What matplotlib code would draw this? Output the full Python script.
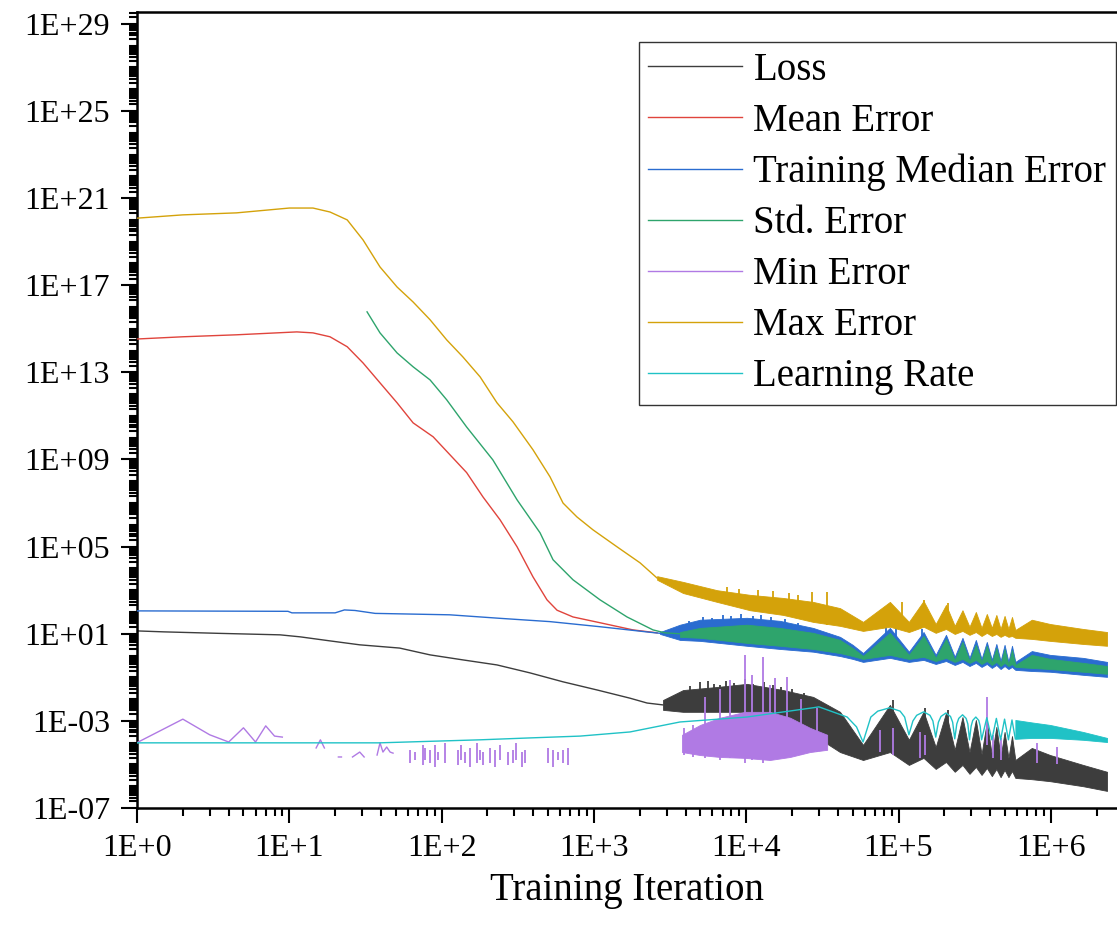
import numpy as np
import matplotlib
matplotlib.use("Agg")
import matplotlib.pyplot as plt
from matplotlib.ticker import FixedLocator, FuncFormatter, NullFormatter

# ------------------------------------------------------------------ data
# Loss (smooth part, then noisy band)
loss_x = [1, 1.5, 3.5, 8.7, 11.8, 18.5, 29, 53, 84, 138, 231, 380, 627, 1054, 1726, 2233, 2843]
loss_y = [13.5, 12.2, 10.4, 8.9, 7.2, 4.7, 3.1, 2.2, 1.07, 0.63, 0.37, 0.16, 0.062, 0.026, 0.011, 6.6e-3, 5.4e-3]
loss_bx = [2843, 3850, 6430, 1.01e4, 1.75e4, 2.75e4, 4.13e4,
           5.85e4, 8.78e4, 1.17e5, 1.46e5, 1.755e5, 2.05e5, 2.34e5, 2.63e5, 2.925e5, 3.22e5,
           3.51e5, 3.8e5, 4.1e5, 4.39e5, 4.68e5, 4.97e5, 5.27e5, 5.56e5, 5.85e5,
           7.5e5, 9.9e5, 1.63e6, 2.34e6]
loss_bhi = [9.1e-3, 0.026, 0.036, 0.05, 0.026, 0.0126, 2.6e-3,
            7.9e-5, 5.4e-3, 1.35e-4, 2.6e-3, 6.3e-5, 2.3e-3, 4.7e-5, 1.5e-3, 3.7e-5, 1.1e-3,
            3.0e-5, 8.9e-4, 2.7e-5, 5.3e-4, 2.2e-5, 3.1e-4, 2.0e-5, 2.0e-4, 1.6e-5,
            5.7e-5, 2.7e-5, 9.5e-6, 4.6e-6]
loss_blo = [3.2e-3, 2.6e-3, 2.6e-3, 2.6e-3, 1.1e-3, 2.3e-4, 3.7e-5,
            1.6e-5, 3.7e-5, 9.5e-6, 2.0e-5, 6.2e-6, 1.3e-5, 4.6e-6, 9.5e-6, 3.7e-6, 7.7e-6,
            3.3e-6, 6.9e-6, 2.9e-6, 6.2e-6, 2.6e-6, 5.6e-6, 2.6e-6, 5.0e-6, 2.4e-6,
            2.1e-6, 1.7e-6, 1.0e-6, 6.1e-7]
loss_spk_x = [4300, 5000, 5600, 6100, 6730, 7400, 8300, 9800, 1.1e4, 1.3e4, 1.5e4, 1.7e4, 2.0e4,
              2.4e4, 9.2e4, 1.5e5, 2.1e5]
loss_spk_hi = [0.04, 0.06, 0.07, 0.05, 0.046, 0.065, 0.055, 0.08, 0.05, 0.06, 0.045, 0.035, 0.03,
               0.02, 9.0e-3, 4.0e-3, 3.0e-3]
loss_spk_lo = [3e-3, 3e-3, 3e-3, 3e-3, 3e-3, 3e-3, 3e-3, 3e-3, 3e-3, 3e-3, 2e-3, 1.5e-3, 1e-3,
               5e-4, 4e-5, 2e-5, 1.5e-5]

# Mean Error
mean_x = [1, 2, 4.5, 11.2, 14.3, 18.5, 24, 30.5, 39.4, 51, 65, 88, 146, 187, 242, 313, 398, 492, 573, 729, 1097, 1806, 2600]
mean_y = [3.4e14, 4.3e14, 5.3e14, 7.2e14, 6.5e14, 4.3e14, 1.5e14, 2.7e13, 3.3e12, 4.0e11, 4.8e10, 1.1e10,
          2.5e8, 1.9e7, 1.7e6, 9.8e4, 4.1e3, 360, 120, 59, 32, 15, 11]

# Training Median Error
med_x = [1, 9.8, 10.4, 20, 23, 27, 36.6, 113, 242, 515, 1097, 2336, 2716]
med_y = [112, 107, 91, 91, 124, 117, 86, 74, 51, 36, 21, 11.7, 10.5]
med_bx = [2716, 3675, 4977, 1.01e4, 1.67e4, 2.75e4, 4.13e4, 5.0e4,
          5.85e4, 8.78e4, 1.17e5, 1.46e5, 1.755e5, 2.05e5, 2.34e5, 2.63e5, 2.925e5, 3.22e5,
          3.51e5, 3.8e5, 4.1e5, 4.39e5, 4.68e5, 4.97e5, 5.27e5, 5.56e5, 5.85e5,
          7.5e5, 9.9e5, 1.63e6, 2.34e6]
med_bhi = [12, 26, 44, 54, 39, 18.5, 7.2, 3.1,
           1.3, 18.5, 1.5, 12, 1.07, 8.9, 0.87, 6.5, 0.78, 5.2,
           0.70, 4.2, 0.63, 3.4, 0.56, 3.1, 0.51, 2.8, 0.51,
           1.6, 1.07, 0.78, 0.51]
med_blo = [9.8, 5.2, 4.7, 2.8, 2.0, 1.5, 0.95, 0.70,
           0.51, 0.78, 0.51, 0.63, 0.41, 0.56, 0.37, 0.51, 0.33, 0.46,
           0.30, 0.41, 0.27, 0.37, 0.24, 0.33, 0.24, 0.30, 0.22,
           0.195, 0.18, 0.13, 0.105]
med_spk_x = [4200, 5200, 6000, 7000, 8000, 9300, 1.1e4, 1.25e4, 1.45e4, 1.8e4, 2.2e4, 8.3e4, 9.6e4, 1.42e5]
med_spk_hi = [40, 60, 55, 70, 62, 80, 66, 72, 58, 50, 30, 24, 22, 17]
med_spk_lo = [8, 8, 8, 6, 6, 6, 5, 5, 4, 4, 3, 2, 2, 2]

# Std. Error
std_x = [32.4, 39.4, 51, 65, 84, 108, 146, 217, 313, 443, 539, 729, 1097, 1650, 2444, 2930, 3675]
std_y = [6.0e15, 6.5e14, 7.8e13, 1.8e13, 4.5e12, 5.5e11, 3.1e10, 9.6e8, 1.4e7, 4.3e5, 2.5e4,
         3.0e3, 360, 59, 15, 11, 10]
std_bx = [3675, 4977, 1.01e4, 1.67e4, 2.75e4, 4.13e4, 5.0e4,
          5.85e4, 8.78e4, 1.17e5, 1.46e5, 1.755e5, 2.05e5, 2.34e5, 2.63e5, 2.925e5, 3.22e5,
          3.51e5, 3.8e5, 4.1e5, 4.39e5, 4.68e5, 4.97e5, 5.27e5, 5.56e5, 5.85e5,
          7.5e5, 9.9e5, 1.63e6, 2.34e6]
std_bhi = [12, 18.5, 26, 18.5, 11, 5.2, 2.2,
           0.95, 11, 1.07, 7.9, 0.78, 5.8, 0.63, 4.2, 0.56, 3.1,
           0.51, 2.8, 0.46, 2.2, 0.41, 2.0, 0.37, 1.8, 0.37,
           1.07, 0.70, 0.46, 0.33]
std_blo = [7.2, 6.5, 3.8, 2.8, 2.0, 1.3, 0.95,
           0.70, 1.07, 0.70, 0.87, 0.56, 0.78, 0.51, 0.70, 0.46, 0.63,
           0.41, 0.56, 0.37, 0.51, 0.33, 0.46, 0.33, 0.41, 0.30,
           0.27, 0.24, 0.18, 0.145]

# Min Error (gaps = zero values, not drawable on log axis)
min_x = [1, 2, 3, 4, 5, 6, 7, 8, 9, np.nan, 15, 16, 17, np.nan, 21, 22, np.nan,
         26, 29, 31, np.nan, 37.7, 39.4, 41.2, 43.6, 45.9, 48.0]
min_y = [1.0e-4, 1.2e-3, 2.3e-4, 1.07e-4, 4.8e-4, 1.07e-4, 5.9e-4, 2.0e-4, 1.8e-4, np.nan,
         5.7e-5, 1.35e-4, 5.7e-5, np.nan, 2.2e-5, 2.2e-5, np.nan,
         2.2e-5, 3.7e-5, 2.2e-5, np.nan, 2.7e-5, 9.8e-5, 3.7e-5, 6.3e-5, 3.7e-5, 3.3e-5]
min_spk_x = [62, 66.5, 75.7, 78, 84, 90, 95, 105, 128, 135, 142, 153, 170, 179, 188, 208, 224,
             242, 274, 295, 310, 335, 352, 503, 541, 582, 627, 675,
             3900, 4500, 5360, 6730, 7830, 9820, 1.09e4, 1.29e4, 1.43e4, 1.55e4, 1.85e4, 2.3e4, 2.9e4,
             7.6e4, 9.2e4, 1.38e5, 1.5e5, 3.81e5, 4.2e5, 4.7e5, 8.1e5, 1.1e6]
min_spk_hi = [4.7e-5, 3.7e-5, 7.9e-5, 5.7e-5, 4.7e-5, 7.9e-5, 3.7e-5, 9.8e-5, 4.7e-5, 7.9e-5, 3.7e-5,
              5.7e-5, 9.8e-5, 4.7e-5, 3.7e-5, 5.7e-5, 4.7e-5, 7.9e-5, 3.7e-5, 4.7e-5, 9.8e-5, 3.7e-5,
              4.7e-5, 5.7e-5, 4.7e-5, 3.7e-5, 4.7e-5, 5.7e-5,
              4.8e-4, 6.5e-4, 0.0126, 0.03, 0.076, 1.07, 0.13, 0.87, 0.043, 0.093, 0.1, 0.01, 3.9e-3,
              3.9e-4, 4.8e-4, 3.1e-4, 2.3e-4, 0.0126, 2.3e-4, 1.6e-4, 1.0e-4, 6.0e-5]
min_spk_lo = [1.2e-5, 1.6e-5, 9.5e-6, 1.6e-5, 1.2e-5, 7.7e-6, 1.6e-5, 1.2e-5, 9.5e-6, 1.6e-5, 1.2e-5,
              7.7e-6, 1.2e-5, 1.6e-5, 9.5e-6, 1.2e-5, 7.7e-6, 1.6e-5, 9.5e-6, 1.2e-5, 1.6e-5, 7.7e-6,
              1.2e-5, 1.2e-5, 7.7e-6, 1.6e-5, 1.2e-5, 9.5e-6,
              2.7e-5, 2.2e-5, 2.0e-5, 1.6e-5, 2.0e-5, 1.2e-5, 1.6e-5, 1.2e-5, 1.6e-5, 2.0e-5, 2.2e-5,
              2.7e-5, 3.7e-5,
              3.7e-5, 2.7e-5, 2.0e-5, 2.7e-5, 7.9e-5, 2.0e-5, 1.6e-5, 1.2e-5, 1.0e-5]
min_bx = [3790, 4977, 6730, 9820, 1.43e4, 1.94e4, 2.62e4, 3.4e4]
min_bhi = [2.3e-4, 6.5e-4, 1.4e-3, 2.6e-3, 2.6e-3, 1.4e-3, 4.8e-4, 2.3e-4]
min_blo = [3.7e-5, 2.7e-5, 2.2e-5, 2.0e-5, 1.6e-5, 2.2e-5, 3.7e-5, 4.7e-5]

# Max Error
max_x = [1, 2, 4.5, 10, 14.3, 18.5, 24, 30.5, 39.4, 51, 65, 84, 108, 138, 179, 231, 294, 398, 515,
         627, 774, 986, 1418, 2009, 2600]
max_y = [1.2e20, 1.7e20, 2.1e20, 3.5e20, 3.5e20, 2.3e20, 1.0e20, 1.2e19, 6.9e17, 8.3e16, 1.7e16,
         2.6e15, 3.1e14, 5.1e13, 6.2e12, 4.0e11, 5.4e10, 2.8e9, 1.6e8, 1.0e7, 2.3e6, 5.9e5, 9.8e4,
         1.8e4, 3.6e3]
max_bx = [2600, 3850, 6430, 1.06e4, 1.75e4, 2.75e4, 4.13e4,
          5.85e4, 8.78e4, 1.17e5, 1.46e5, 1.755e5, 2.05e5, 2.34e5, 2.63e5, 2.925e5, 3.22e5,
          3.51e5, 3.8e5, 4.1e5, 4.39e5, 4.68e5, 4.97e5, 5.27e5, 5.56e5, 5.85e5,
          7.5e5, 9.9e5, 1.63e6, 2.34e6]
max_bhi = [4.4e3, 2.4e3, 1.0e3, 610, 440, 290, 150,
           35, 290, 35, 320, 28, 210, 23, 120, 21, 100,
           18.5, 81, 18.5, 73, 16.6, 66, 16.6, 59, 15,
           44, 28, 16.6, 12]
max_blo = [3.0e3, 740, 290, 120, 73, 35, 23,
           13.5, 21, 12, 21, 11, 16.6, 9.8, 13.5, 8.9, 12,
           7.9, 11, 7.9, 9.8, 7.2, 8.9, 7.2, 7.9, 6.5,
           5.8, 4.7, 3.4, 2.8]
max_spk_x = [7500, 9000, 1.2e4, 1.5e4, 1.9e4, 2.2e4, 2.7e4, 3.4e4, 1.05e5, 1.47e5, 2.1e5]
max_spk_hi = [1.4e3, 1.1e3, 1.0e3, 900, 750, 600, 830, 830, 290, 350, 250]
max_spk_lo = [300, 200, 150, 100, 80, 60, 35, 25, 21, 21, 16]

# Learning Rate
lr_x = [1, 39, 179, 380, 811, 1726, 3675, 1.01e4, 2.75e4, 3.0e4, 3.7e4, 4.6e4, 5.3e4,
        5.85e4, 6.58e4, 7.31e4, 8.78e4, 1.024e5, 1.097e5,
        1.17e5, 1.243e5, 1.316e5, 1.463e5, 1.609e5, 1.682e5,
        1.755e5, 1.828e5, 1.901e5, 2.048e5, 2.194e5, 2.267e5,
        2.34e5, 2.413e5, 2.486e5, 2.633e5, 2.779e5, 2.852e5,
        2.925e5, 2.998e5, 3.071e5, 3.218e5, 3.364e5, 3.437e5,
        3.51e5, 3.8e5, 4.1e5, 4.39e5, 4.68e5, 4.97e5, 5.27e5, 5.56e5, 5.85e5]
lr_y = [9.8e-5, 9.8e-5, 1.35e-4, 1.65e-4, 2.0e-4, 3.1e-4, 8.9e-4, 1.5e-3, 4.0e-3, 4.4e-3, 2.6e-3, 1.5e-3, 5.3e-4,
        1.07e-4, 1.5e-3, 2.8e-3, 4.0e-3, 2.8e-3, 1.5e-3,
        2.3e-4, 9.9e-4, 1.8e-3, 2.6e-3, 1.8e-3, 9.9e-4,
        1.8e-4, 8.7e-4, 1.6e-3, 2.3e-3, 1.6e-3, 8.7e-4,
        1.5e-4, 7.2e-4, 1.3e-3, 1.9e-3, 1.3e-3, 7.2e-4,
        1.35e-4, 5.7e-4, 1.05e-3, 1.5e-3, 1.05e-3, 5.7e-4,
        1.35e-4, 1.4e-3, 1.35e-4, 1.3e-3, 1.35e-4, 1.2e-3, 1.35e-4, 1.1e-3, 1.5e-4]
lr_bx = [5.85e5, 7.5e5, 9.9e5, 1.63e6, 2.34e6]
lr_bhi = [1.1e-3, 8.5e-4, 6.5e-4, 3.1e-4, 1.65e-4]
lr_blo = [1.5e-4, 1.65e-4, 1.65e-4, 1.35e-4, 1.07e-4]

labels = ["Loss", "Mean Error", "Training Median Error", "Std. Error",
          "Min Error", "Max Error", "Learning Rate"]
colors = ["#3d3d3d", "#e0443c", "#2a6cd0", "#2ea46c", "#b07ae4", "#d4a20a", "#20c2c6"]
x_major = [1, 10, 100, 1e3, 1e4, 1e5, 1e6]
y_major = [1e-7, 1e-3, 1e1, 1e5, 1e9, 1e13, 1e17, 1e21, 1e25, 1e29]

# ------------------------------------------------------------------ figure
plt.rcParams["font.family"] = ["Liberation Serif", "DejaVu Serif"]
fig = plt.figure(figsize=(11.17, 9.32), dpi=100)
ax = fig.add_axes([137 / 1117, 124 / 932, 980 / 1117, 796 / 932])
ax.set_xscale("log")
ax.set_yscale("log")

lw = 1.0
c_loss, c_mean, c_med, c_std, c_min, c_max, c_lr = colors


def band(x, lo, hi, c, z):
    ax.fill_between(x, lo, hi, color=c, lw=0.6, edgecolor=c, zorder=z)


# Loss
h_loss, = ax.plot(loss_x, loss_y, color=c_loss, lw=lw, zorder=2, label=labels[0])
band(loss_bx, loss_blo, loss_bhi, c_loss, 2)
ax.vlines(loss_spk_x, loss_spk_lo, loss_spk_hi, color=c_loss, lw=1.3, zorder=2)
# Mean
h_mean, = ax.plot(mean_x, mean_y, color=c_mean, lw=lw, zorder=3, label=labels[1])
# Median
h_med, = ax.plot(med_x, med_y, color=c_med, lw=lw, zorder=4, label=labels[2])
band(med_bx, med_blo, med_bhi, c_med, 4)
ax.vlines(med_spk_x, med_spk_lo, med_spk_hi, color=c_med, lw=1.3, zorder=4)
# Std
h_std, = ax.plot(std_x, std_y, color=c_std, lw=lw, zorder=5, label=labels[3])
band(std_bx, std_blo, std_bhi, c_std, 5)
# Min
h_min, = ax.plot(min_x, min_y, color=c_min, lw=lw, zorder=6, label=labels[4])
band(min_bx, min_blo, min_bhi, c_min, 6)
ax.vlines(min_spk_x, min_spk_lo, min_spk_hi, color=c_min, lw=1.3, zorder=6)
# Max
h_max, = ax.plot(max_x, max_y, color=c_max, lw=lw, zorder=7, label=labels[5])
band(max_bx, max_blo, max_bhi, c_max, 7)
ax.vlines(max_spk_x, max_spk_lo, max_spk_hi, color=c_max, lw=1.3, zorder=7)
# LR
h_lr, = ax.plot(lr_x, lr_y, color=c_lr, lw=lw, zorder=8, label=labels[6])
band(lr_bx, lr_blo, lr_bhi, c_lr, 8)

ax.set_xlim(1, 2.72e6)
ax.set_ylim(1e-7, 3.5e29)

# ticks
ax.xaxis.set_major_locator(FixedLocator(x_major))
ax.xaxis.set_major_formatter(FuncFormatter(lambda v, p: "1E%+d" % int(round(np.log10(v)))))
xminor = [m * 10.0 ** k for k in range(0, 7) for m in range(2, 10)]
ax.xaxis.set_minor_locator(FixedLocator(xminor))
ax.xaxis.set_minor_formatter(NullFormatter())

ax.yaxis.set_major_locator(FixedLocator(y_major))
ax.yaxis.set_major_formatter(FuncFormatter(lambda v, p: "1E%+03d" % int(round(np.log10(v)))))
yminor = [m * 10.0 ** k for k in range(-7, 30) for m in range(1, 10)
          if not (m == 1 and (k + 7) % 4 == 0)]
ax.yaxis.set_minor_locator(FixedLocator(yminor))
ax.yaxis.set_minor_formatter(NullFormatter())

ax.tick_params(axis="x", which="major", direction="out", length=11, width=1.5,
               labelsize=23, pad=8)
ax.tick_params(axis="x", which="minor", direction="out", length=5.5, width=1.5)
ax.tick_params(axis="y", which="major", direction="out", length=11.5, width=1.5,
               labelsize=23, pad=8)
ax.tick_params(axis="y", which="minor", direction="out", length=5.5, width=1.5)
ax.tick_params(top=False, right=False, which="both")

for s in ["left", "bottom", "top"]:
    ax.spines[s].set_linewidth(1.8)
ax.spines["right"].set_visible(False)

ax.set_xlabel("Training Iteration", fontsize=28, labelpad=6)

leg = ax.legend(handles=[h_loss, h_mean, h_med, h_std, h_min, h_max, h_lr],
                loc="upper right", bbox_to_anchor=(0.999, 0.962), bbox_transform=ax.transAxes,
                borderaxespad=0, fontsize=28, frameon=True, fancybox=False,
                borderpad=0.25, handlelength=2.4, handletextpad=0.3, labelspacing=0.36)
leg.get_frame().set_edgecolor("black")
leg.get_frame().set_linewidth(1.0)
leg.set_zorder(20)

fig.savefig("out.png", dpi=100)
